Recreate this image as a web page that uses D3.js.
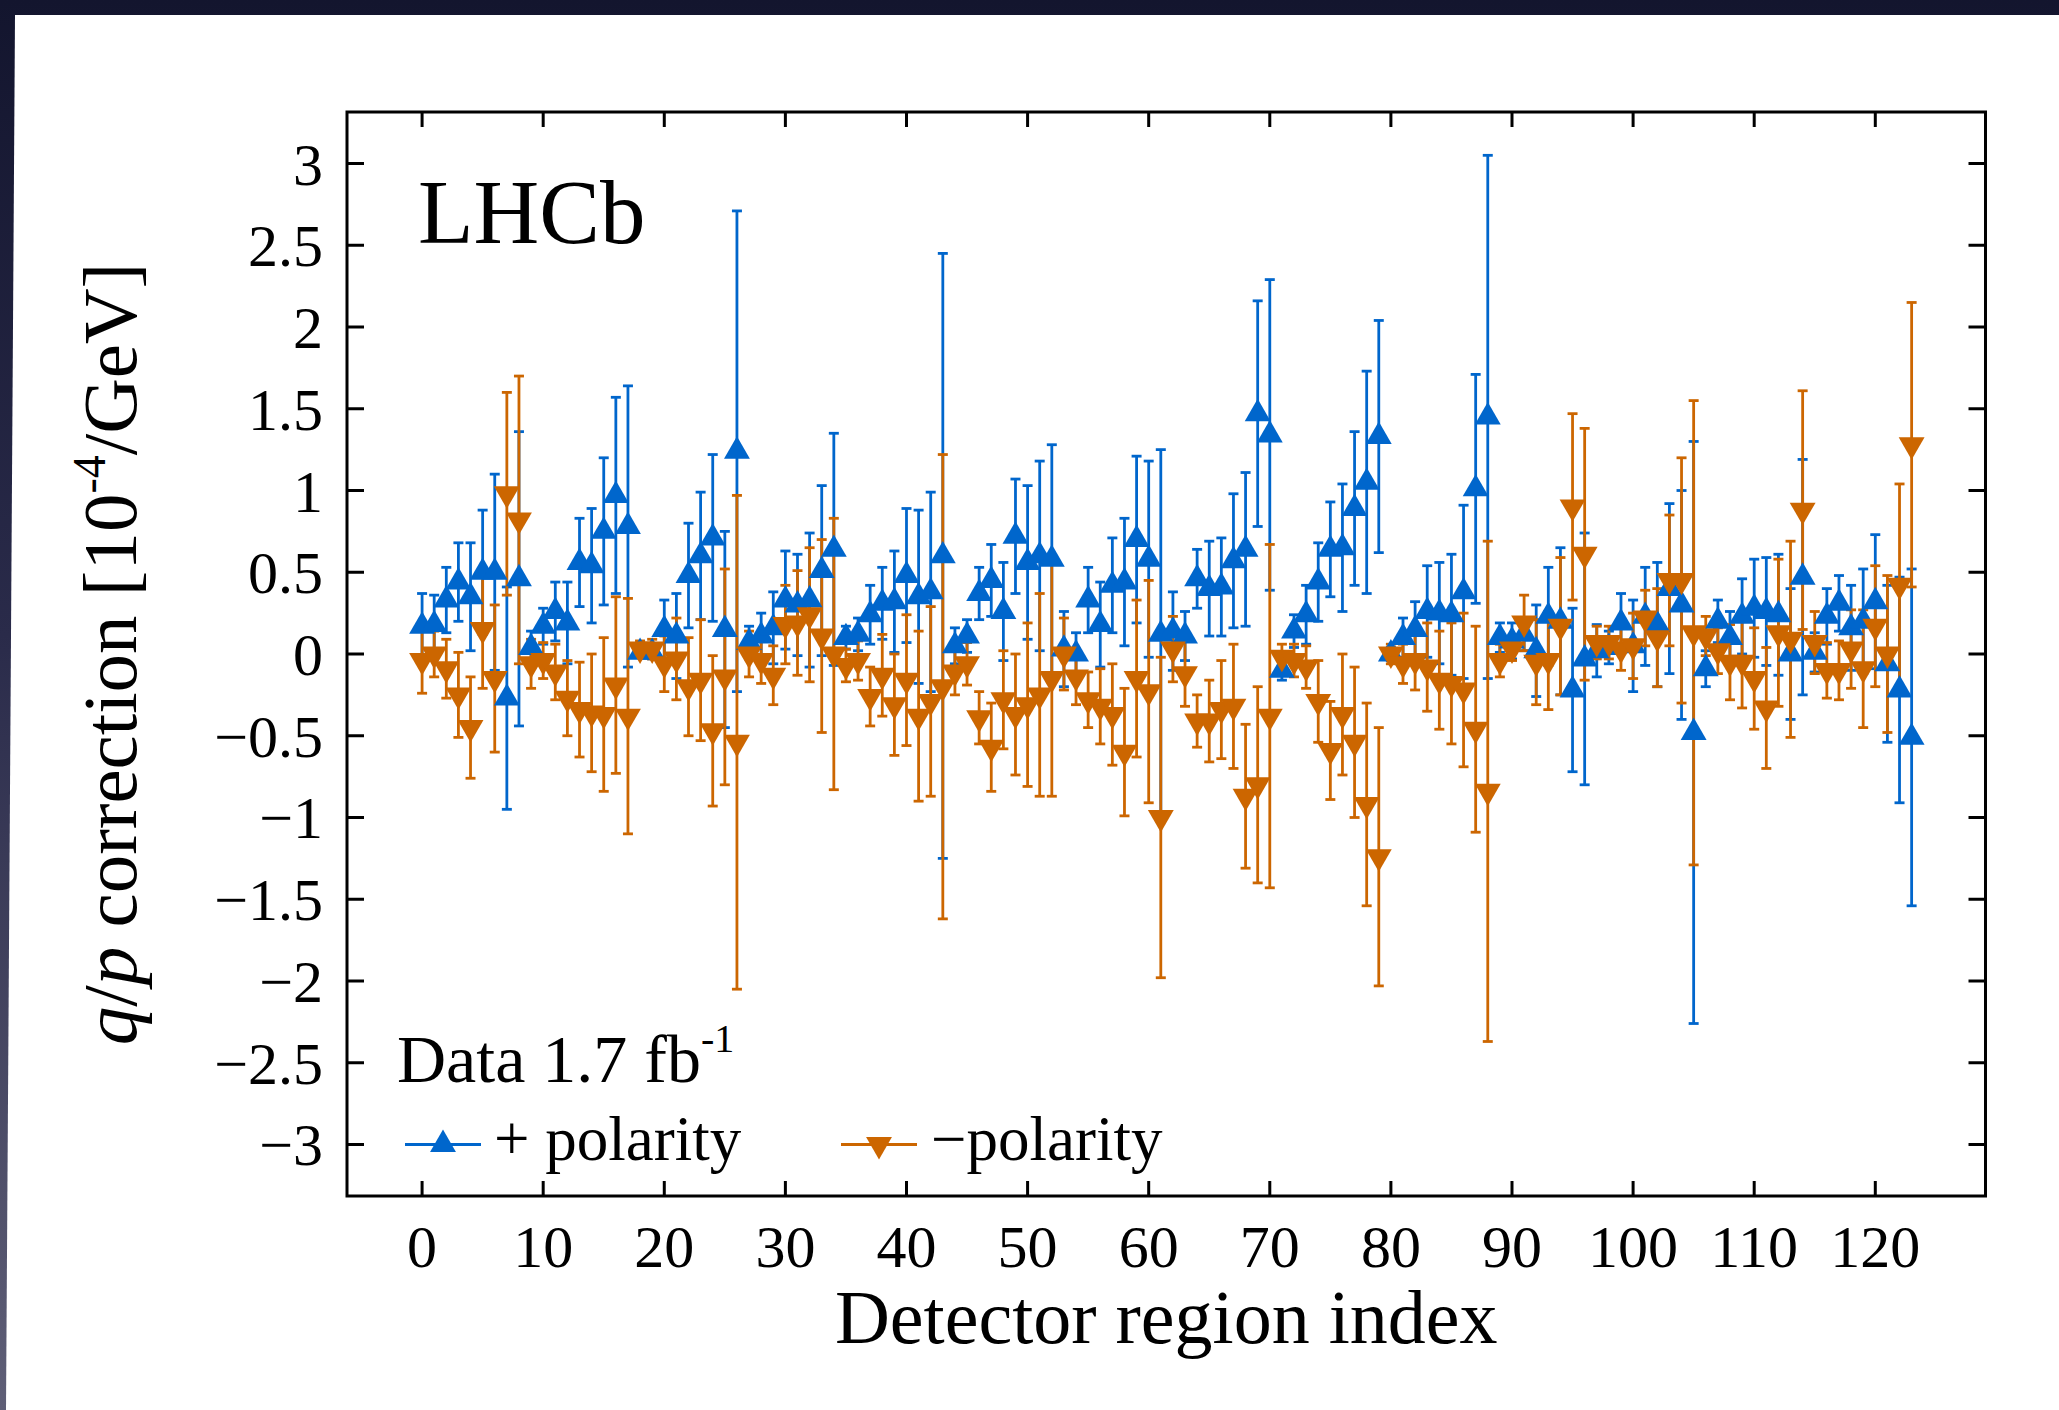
<!DOCTYPE html>
<html>
<head>
<meta charset="utf-8">
<script src="https://cdn.jsdelivr.net/npm/d3@7"></script>
<style>
  body { margin: 0; background: #14162f; }
  svg text { font-family: "Liberation Serif", "Times New Roman", serif; fill: #000; }
</style>
</head>
<body>
<div id="chart"></div>
<script>
// detector region index 0..123
var regionIndex = d3.range(0, 124);

// + polarity (blue, up triangles)
var plusVal = [
  0.17, 0.18, 0.33, 0.44, 0.35, 0.50, 0.50, -0.27, 0.46, 0.04,
  0.17, 0.26, 0.19, 0.56, 0.54, 0.75, 0.97, 0.78, 0.01, 0.01,
  0.15, 0.11, 0.48, 0.60, 0.71, 0.15, 1.24, 0.07, 0.11, 0.16,
  0.33, 0.30, 0.33, 0.51, 0.64, 0.10, 0.12, 0.24, 0.31, 0.32,
  0.48, 0.35, 0.38, 0.60, 0.05, 0.11, 0.37, 0.45, 0.26, 0.72,
  0.56, 0.60, 0.58, 0.03, 0.00, 0.33, 0.18, 0.42, 0.44, 0.70,
  0.58, 0.12, 0.14, 0.11, 0.46, 0.40, 0.41, 0.57, 0.64, 1.47,
  1.34, -0.10, 0.14, 0.24, 0.44, 0.64, 0.65, 0.89, 1.05, 1.33,
  0.00, 0.10, 0.15, 0.26, 0.25, 0.24, 0.38, 1.01, 1.45, 0.10,
  0.08, 0.12, 0.02, 0.23, 0.20, -0.22, -0.03, 0.02, 0.04, 0.19,
  0.05, 0.23, 0.18, 0.40, 0.30, -0.48, -0.09, 0.20, 0.10, 0.23,
  0.28, 0.26, 0.24, 0.00, 0.47, 0.01, 0.23, 0.31, 0.16, 0.20,
  0.32, -0.06, -0.22, -0.51
];
var plusErr = [
  0.20, 0.18, 0.20, 0.24, 0.33, 0.38, 0.60, 0.68, 0.90, 0.10,
  0.11, 0.18, 0.25, 0.27, 0.35, 0.45, 0.60, 0.86, 0.03, 0.04,
  0.18, 0.26, 0.32, 0.39, 0.51, 0.60, 1.47, 0.10, 0.14, 0.22,
  0.30, 0.31, 0.41, 0.52, 0.71, 0.07, 0.10, 0.18, 0.22, 0.31,
  0.41, 0.53, 0.61, 1.85, 0.11, 0.10, 0.16, 0.22, 0.30, 0.35,
  0.47, 0.58, 0.70, 0.23, 0.13, 0.20, 0.26, 0.29, 0.39, 0.51,
  0.60, 1.13, 0.24, 0.15, 0.18, 0.29, 0.30, 0.41, 0.47, 0.69,
  0.95, 0.06, 0.10, 0.18, 0.24, 0.29, 0.39, 0.47, 0.68, 0.71,
  0.04, 0.12, 0.17, 0.28, 0.31, 0.37, 0.53, 0.70, 1.60, 0.09,
  0.11, 0.10, 0.28, 0.30, 0.45, 0.50, 0.77, 0.16, 0.10, 0.18,
  0.28, 0.30, 0.38, 0.52, 0.70, 1.78, 0.11, 0.13, 0.16, 0.23,
  0.30, 0.33, 0.37, 0.40, 0.72, 0.12, 0.17, 0.17, 0.26, 0.32,
  0.41, 0.48, 0.69, 1.03
];

// - polarity (orange, down triangles)
var minusVal = [
  -0.04, 0.00, -0.09, -0.25, -0.45, 0.15, -0.15, 0.98, 0.82, -0.06,
  -0.04, -0.11, -0.27, -0.34, -0.36, -0.37, -0.19, -0.38, 0.03, 0.03,
  -0.06, -0.03, -0.20, -0.16, -0.47, -0.14, -0.54, 0.00, -0.04, -0.13,
  0.18, 0.19, 0.24, 0.11, 0.00, -0.07, -0.04, -0.26, -0.13, -0.31,
  -0.16, -0.38, -0.29, -0.20, -0.11, -0.06, -0.39, -0.57, -0.28, -0.37,
  -0.31, -0.25, -0.15, 0.00, -0.14, -0.28, -0.32, -0.37, -0.60, -0.15,
  -0.23, -1.00, 0.03, -0.12, -0.41, -0.41, -0.34, -0.32, -0.87, -0.80,
  -0.38, -0.02, -0.04, -0.08, -0.29, -0.59, -0.37, -0.54, -0.92, -1.24,
  0.00, -0.06, -0.04, -0.08, -0.16, -0.18, -0.22, -0.46, -0.84, -0.04,
  0.03, 0.19, -0.05, -0.04, 0.17, 0.90, 0.61, 0.07, 0.07, 0.03,
  0.05, 0.22, 0.10, 0.45, 0.45, 0.13, 0.11, 0.02, -0.05, -0.05,
  -0.15, -0.33, 0.13, 0.09, 0.88, 0.07, -0.10, -0.10, 0.03, -0.09,
  0.17, 0.00, 0.42, 1.28
];
var minusErr = [
  0.20, 0.14, 0.18, 0.26, 0.31, 0.36, 0.45, 0.62, 0.88, 0.15,
  0.11, 0.17, 0.23, 0.29, 0.36, 0.47, 0.54, 0.72, 0.05, 0.06,
  0.17, 0.25, 0.30, 0.37, 0.46, 0.66, 1.51, 0.14, 0.14, 0.18,
  0.24, 0.32, 0.41, 0.59, 0.83, 0.10, 0.12, 0.18, 0.25, 0.31,
  0.40, 0.52, 0.58, 1.42, 0.14, 0.13, 0.16, 0.27, 0.30, 0.37,
  0.50, 0.62, 0.72, 0.22, 0.17, 0.17, 0.23, 0.31, 0.39, 0.48,
  0.68, 0.98, 0.20, 0.20, 0.16, 0.25, 0.30, 0.38, 0.44, 0.60,
  1.05, 0.08, 0.10, 0.13, 0.25, 0.30, 0.37, 0.46, 0.62, 0.79,
  0.06, 0.12, 0.18, 0.27, 0.30, 0.37, 0.47, 0.63, 1.53, 0.10,
  0.07, 0.17, 0.26, 0.30, 0.42, 0.57, 0.77, 0.10, 0.10, 0.13,
  0.20, 0.17, 0.30, 0.40, 0.75, 1.42, 0.12, 0.14, 0.23, 0.28,
  0.31, 0.37, 0.45, 0.60, 0.73, 0.19, 0.17, 0.18, 0.24, 0.36,
  0.37, 0.48, 0.62, 0.87
];

var xTicks = [0, 10, 20, 30, 40, 50, 60, 70, 80, 90, 100, 110, 120];
var yTicks = [-3, -2.5, -2, -1.5, -1, -0.5, 0, 0.5, 1, 1.5, 2, 2.5, 3];

var W = 2059, H = 1410;
var frameL = 347, frameR = 1985.5, frameT = 112, frameB = 1196;
var blue = "#0066cc", orange = "#cc6600";
var markerSize = 290;

var svg = d3.select("#chart").append("svg")
  .attr("width", W).attr("height", H);

// slide background
var grad = svg.append("defs").append("linearGradient")
  .attr("id", "bg").attr("x1", 0).attr("y1", 0).attr("x2", 0).attr("y2", 1);
grad.append("stop").attr("offset", "0%").attr("stop-color", "#13152e");
grad.append("stop").attr("offset", "45%").attr("stop-color", "#2a2b4a");
grad.append("stop").attr("offset", "100%").attr("stop-color", "#5f5f77");
svg.append("rect").attr("width", W).attr("height", H).attr("fill", "url(#bg)");
svg.append("polygon")
  .attr("points", [[15, 15], [W, 15], [W, H], [6, H]].join(" "))
  .attr("fill", "#ffffff");

var x = d3.scaleLinear().domain([-6.2, 129.1]).range([frameL, frameR]);
var y = d3.scaleLinear().domain([-3.315, 3.315]).range([frameB, frameT]);

// ticks (inward, all four sides)
var ticks = svg.append("g").attr("stroke", "#000").attr("stroke-width", 3);
xTicks.forEach(function(t) {
  ticks.append("line").attr("x1", x(t)).attr("x2", x(t)).attr("y1", frameB).attr("y2", frameB - 15);
  ticks.append("line").attr("x1", x(t)).attr("x2", x(t)).attr("y1", frameT).attr("y2", frameT + 15);
});
yTicks.forEach(function(t) {
  ticks.append("line").attr("x1", frameL).attr("x2", frameL + 17).attr("y1", y(t)).attr("y2", y(t));
  ticks.append("line").attr("x1", frameR).attr("x2", frameR - 17).attr("y1", y(t)).attr("y2", y(t));
});

// tick labels
svg.append("g").selectAll("text").data(xTicks).enter().append("text")
  .attr("x", function(d) { return x(d); })
  .attr("y", 1267)
  .attr("text-anchor", "middle")
  .attr("font-size", 60)
  .text(function(d) { return d; });

svg.append("g").selectAll("text").data(yTicks).enter().append("text")
  .attr("x", 323)
  .attr("y", function(d) { return y(d) + 21; })
  .attr("text-anchor", "end")
  .attr("font-size", 60)
  .text(function(d) { return d < 0 ? "\u2212" + Math.abs(d) : String(d); });

// error bars
function drawBars(vals, errs, color) {
  var bars = svg.append("g").selectAll("g").data(regionIndex).enter().append("g")
    .attr("stroke", color).attr("stroke-width", 2.8);
  bars.append("line")
    .attr("x1", function(i) { return x(i); }).attr("x2", function(i) { return x(i); })
    .attr("y1", function(i) { return y(vals[i] + errs[i]); })
    .attr("y2", function(i) { return y(vals[i] - errs[i]); });
  bars.append("line")
    .attr("x1", function(i) { return x(i) - 5; }).attr("x2", function(i) { return x(i) + 5; })
    .attr("y1", function(i) { return y(vals[i] + errs[i]); })
    .attr("y2", function(i) { return y(vals[i] + errs[i]); });
  bars.append("line")
    .attr("x1", function(i) { return x(i) - 5; }).attr("x2", function(i) { return x(i) + 5; })
    .attr("y1", function(i) { return y(vals[i] - errs[i]); })
    .attr("y2", function(i) { return y(vals[i] - errs[i]); });
}
function drawMarkers(vals, color, up) {
  var tri = d3.symbol().type(d3.symbolTriangle).size(markerSize);
  svg.append("g").selectAll("path").data(regionIndex).enter().append("path")
    .attr("d", tri)
    .attr("fill", color)
    .attr("transform", function(i) {
      return "translate(" + x(i) + "," + y(vals[i]) + ")" + (up ? "" : " rotate(180)");
    });
}
drawBars(plusVal, plusErr, blue);
drawBars(minusVal, minusErr, orange);
drawMarkers(plusVal, blue, true);
drawMarkers(minusVal, orange, false);

// frame
svg.append("rect")
  .attr("x", frameL).attr("y", frameT)
  .attr("width", frameR - frameL).attr("height", frameB - frameT)
  .attr("fill", "none").attr("stroke", "#000").attr("stroke-width", 3);

// LHCb label
svg.append("text").attr("x", 418).attr("y", 243).attr("font-size", 91).text("LHCb");

// data label
var dl = svg.append("text").attr("x", 397).attr("y", 1082).attr("font-size", 68);
dl.append("tspan").text("Data 1.7 fb");
dl.append("tspan").attr("font-size", 40).attr("dy", -30).text("-1");

// legend
var legY = y(-3);
var legend = [
  { x0: 405, x1: 481, tx: 494, color: blue, up: true, label: "+ polarity" },
  { x0: 841, x1: 917, tx: 931, color: orange, up: false, label: "\u2212polarity" }
];
legend.forEach(function(l) {
  svg.append("line").attr("x1", l.x0).attr("x2", l.x1).attr("y1", legY).attr("y2", legY)
    .attr("stroke", l.color).attr("stroke-width", 2.8);
  svg.append("path").attr("d", d3.symbol().type(d3.symbolTriangle).size(markerSize))
    .attr("fill", l.color)
    .attr("transform", "translate(" + (l.x0 + l.x1) / 2 + "," + legY + ")" + (l.up ? "" : " rotate(180)"));
  svg.append("text").attr("x", l.tx).attr("y", legY + 16).attr("font-size", 63).text(l.label);
});

// axis titles
svg.append("text")
  .attr("x", (frameL + frameR) / 2).attr("y", 1343)
  .attr("text-anchor", "middle").attr("font-size", 76)
  .text("Detector region index");

var yt = svg.append("text")
  .attr("transform", "translate(136," + (frameT + frameB) / 2 + ") rotate(-90)")
  .attr("text-anchor", "middle").attr("font-size", 77);
yt.append("tspan").attr("font-style", "italic").text("q");
yt.append("tspan").text("/");
yt.append("tspan").attr("font-style", "italic").text("p");
yt.append("tspan").text(" correction [10");
yt.append("tspan").attr("font-size", 46).attr("dy", -31).text("-4");
yt.append("tspan").attr("dy", 31).text("/GeV]");
</script>
</body>
</html>
